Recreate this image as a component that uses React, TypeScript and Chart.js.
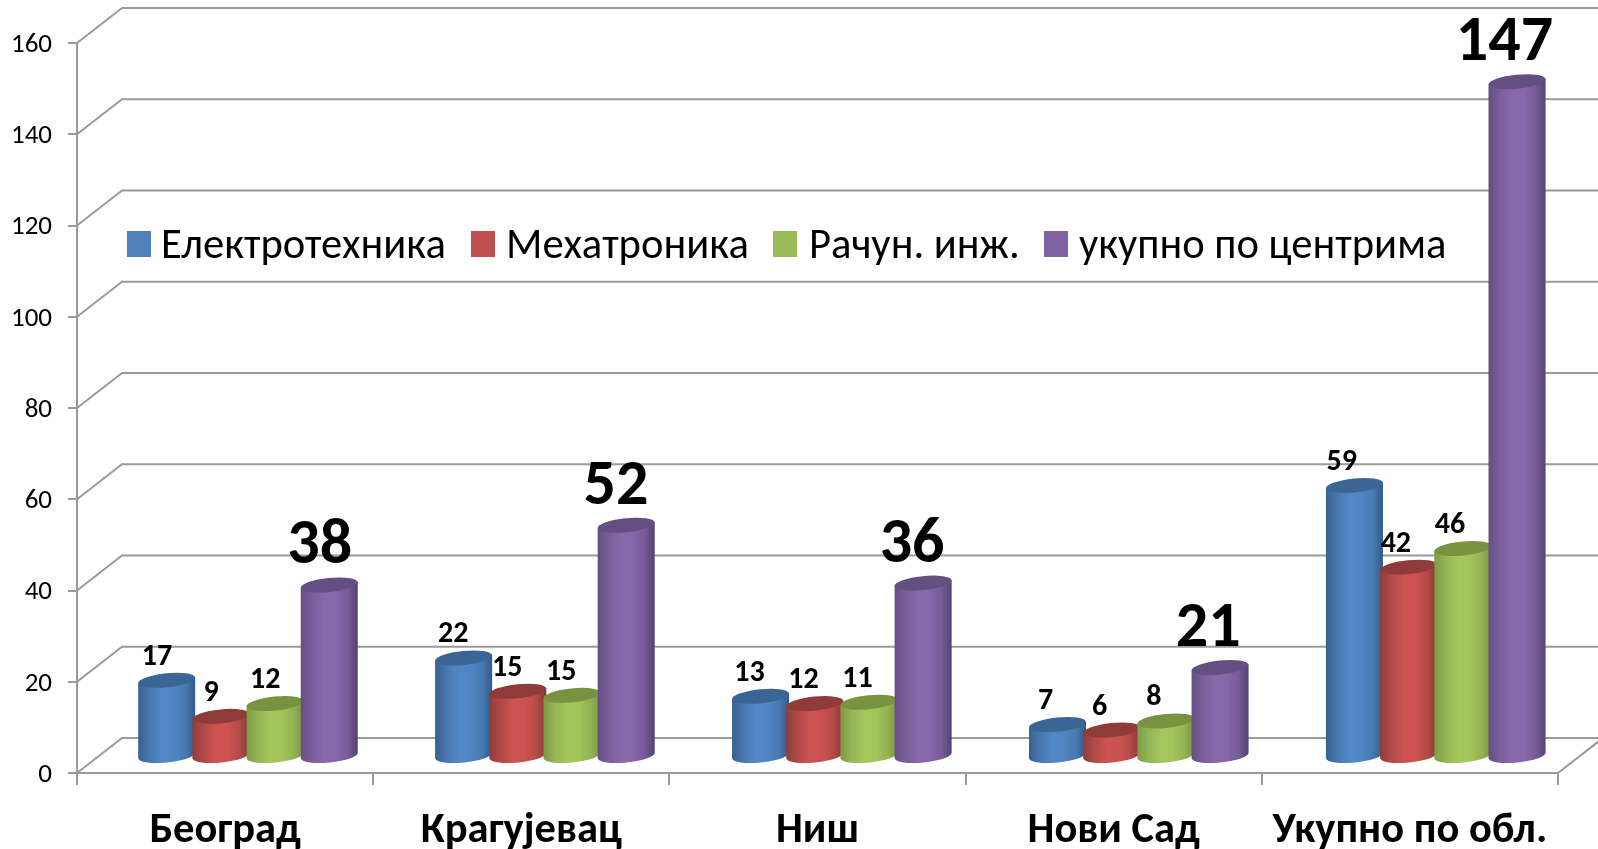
import React, { useEffect, useRef } from "react";
import { Chart, registerables } from "chart.js";

Chart.register(...registerables);

const categories = ["Београд", "Крагујевац", "Ниш", "Нови Сад", "Укупно по обл."];
const seriesNames = ["Електротехника", "Мехатроника", "Рачун. инж.", "укупно по центрима"];
// printed data labels
const electroLabels = [17, 22, 13, 7, 59];
const mechaLabels = [9, 15, 12, 6, 42];
const racunLabels = [12, 15, 11, 8, 46];
const totalLabels = [38, 52, 36, 21, 147];
// column heights
const electro = [16.7, 21.6, 13.2, 7, 59.4];
const mecha = [8.8, 14.3, 11.6, 5.8, 41.5];
const racun = [11.6, 13.4, 11.9, 7.8, 45.6];
const total = [37.6, 50.7, 38, 19.5, 147.9];
const yTicks = [0, 20, 40, 60, 80, 100, 120, 140, 160];

const legendColors = ["#4F81BD", "#C0504D", "#9BBB59", "#8064A2"];
const capColors = ["#3B6594", "#8F3B39", "#78933F", "#654E82"];
const bodyStops = [
  ["#35608F", "#4A78AE", "#5188C8", "#5085C2", "#487AB2", "#315A88"],
  ["#8E3C3A", "#B24A48", "#CD5350", "#CB524F", "#B44B48", "#863836"],
  ["#7D9A45", "#96B555", "#A5C65C", "#A3C45B", "#95B254", "#7A9442"],
  ["#644E85", "#7A5F9B", "#8868AB", "#8667A8", "#775C96", "#544170"],
];

const FONT = 'Carlito, Calibri, "Open Sans", sans-serif';
const DEPTH_X = 45;
const DEPTH_Y = 35;
const LINE = "#9A9A9A";
const legendMarkerX = [127, 471, 773, 1044];
const legendTextX = [161, 506, 809, 1079];

const barGeom = (chart: any, bar: any) => ({
  cx: bar.x + DEPTH_X / 2 + (bar.x - chart.chartArea.left) * 0.0025,
  top: bar.y - DEPTH_Y / 2 + 1,
  bottom: bar.base - DEPTH_Y / 2 + 1,
  rx: bar.width * 0.53,
});

const scene = {
  id: "scene3d",
  beforeDraw(chart: any) {
    const y = chart.scales.y;
    if (!y.$nudged) {
      y.getLabelItems(chart.chartArea).forEach((item: any) => {
        item.options.translation[1] += 2;
      });
      y.$nudged = true;
    }
  },
  beforeDatasetsDraw(chart: any) {
    const { ctx, scales, chartArea } = chart;
    const y = scales.y;
    ctx.save();
    ctx.strokeStyle = LINE;
    ctx.lineWidth = 2;
    yTicks.forEach((v) => {
      const py = y.getPixelForValue(v);
      ctx.beginPath();
      ctx.moveTo(chartArea.left, py);
      ctx.lineTo(chartArea.left + DEPTH_X, py - DEPTH_Y);
      ctx.lineTo(chart.width + 10, py - DEPTH_Y);
      ctx.stroke();
    });
    const p0 = y.getPixelForValue(0);
    ctx.beginPath();
    ctx.moveTo(chartArea.right, p0);
    ctx.lineTo(chartArea.right + DEPTH_X, p0 - DEPTH_Y);
    ctx.stroke();

    chart.data.labels.forEach((_: any, j: number) => {
      chart.data.datasets.forEach((_d: any, d: number) => {
        const bar = chart.getDatasetMeta(d).data[j];
        const { cx, top, bottom, rx } = barGeom(chart, bar);
        const ry = 7;
        const rot = -0.1;
        const lx = -Math.cos(rot) * rx;
        const ly = -Math.sin(rot) * rx;
        const g = ctx.createLinearGradient(cx - rx, 0, cx + rx, 0);
        const s = bodyStops[d];
        [0, 0.2, 0.42, 0.62, 0.82, 1].forEach((o, k) => g.addColorStop(o, s[k]));
        ctx.fillStyle = g;
        ctx.beginPath();
        ctx.moveTo(cx + lx, top + ly);
        ctx.lineTo(cx + lx, bottom + ly);
        ctx.ellipse(cx, bottom, rx, ry, rot, Math.PI, 0, true);
        ctx.lineTo(cx - lx, top - ly);
        ctx.closePath();
        ctx.fill();
        ctx.fillStyle = capColors[d];
        ctx.beginPath();
        ctx.ellipse(cx, top, rx, ry, rot, 0, Math.PI * 2);
        ctx.fill();
      });
    });
    ctx.restore();
    return false;
  },
  afterDraw(chart: any) {
    const { ctx } = chart;
    ctx.save();
    ctx.textAlign = "center";
    ctx.textBaseline = "middle";
    ctx.fillStyle = "#000";
    chart.data.datasets.forEach((ds: any, d: number) => {
      const big = d === 3;
      ctx.font = `bold ${big ? 64 : 30}px ${FONT}`;
      chart.getDatasetMeta(d).data.forEach((bar: any, j: number) => {
        const { top } = barGeom(chart, bar);
        const lx = bar.x + DEPTH_X / 2 - (big ? 9 : 9.5);
        ctx.fillText(String(ds.printed[j]), lx, top - (big ? 37.5 : 23));
      });
    });
    ctx.font = `42.6px ${FONT}`;
    ctx.textAlign = "left";
    seriesNames.forEach((name, i) => {
      ctx.fillStyle = legendColors[i];
      ctx.fillRect(legendMarkerX[i], 231, 24, 26);
      ctx.fillStyle = "#000";
      ctx.fillText(name, legendTextX[i], 247);
    });
    ctx.restore();
  },
};

export default function App() {
  const ref = useRef<HTMLCanvasElement>(null);
  useEffect(() => {
    const printed = [electroLabels, mechaLabels, racunLabels, totalLabels];
    const chart = new Chart(ref.current!, {
      type: "bar",
      data: {
        labels: categories,
        datasets: [electro, mecha, racun, total].map((data, i) => ({
          label: seriesNames[i],
          data,
          printed: printed[i],
          backgroundColor: legendColors[i],
          categoryPercentage: 0.73,
          barPercentage: 1,
        })),
      },
      options: {
        responsive: false,
        animation: false,
        layout: { padding: { top: 43, right: 40, left: 0, bottom: 0 } },
        plugins: { legend: { display: false }, tooltip: { enabled: false } },
        scales: {
          x: {
            afterFit: (s: any) => { s.height = 76; },
            border: { display: true, color: LINE, width: 2 },
            grid: { drawOnChartArea: false, drawTicks: true, tickLength: 12, color: LINE, lineWidth: 2, offset: true },
            ticks: { color: "#000", font: { family: FONT, size: 42.5, weight: "bold" }, padding: 21, maxRotation: 0, autoSkip: false },
          },
          y: {
            min: 0,
            max: 160,
            afterFit: (s: any) => { s.width = 77; },
            afterBuildTicks: (s: any) => { s.ticks = yTicks.map((value) => ({ value })); },
            border: { display: true, color: LINE, width: 2 },
            grid: { drawOnChartArea: false, drawTicks: true, tickLength: 9, color: LINE, lineWidth: 2 },
            ticks: { color: "#000", font: { family: FONT, size: 27 }, padding: 16 },
          },
        },
      },
      plugins: [scene],
    } as any);
    return () => chart.destroy();
  }, []);
  return (
    <div style={{ position: "fixed", left: 0, top: 0, width: 1598, height: 849, background: "#fff" }}>
      <canvas ref={ref} width={1598} height={849} style={{ display: "block" }} />
    </div>
  );
}
